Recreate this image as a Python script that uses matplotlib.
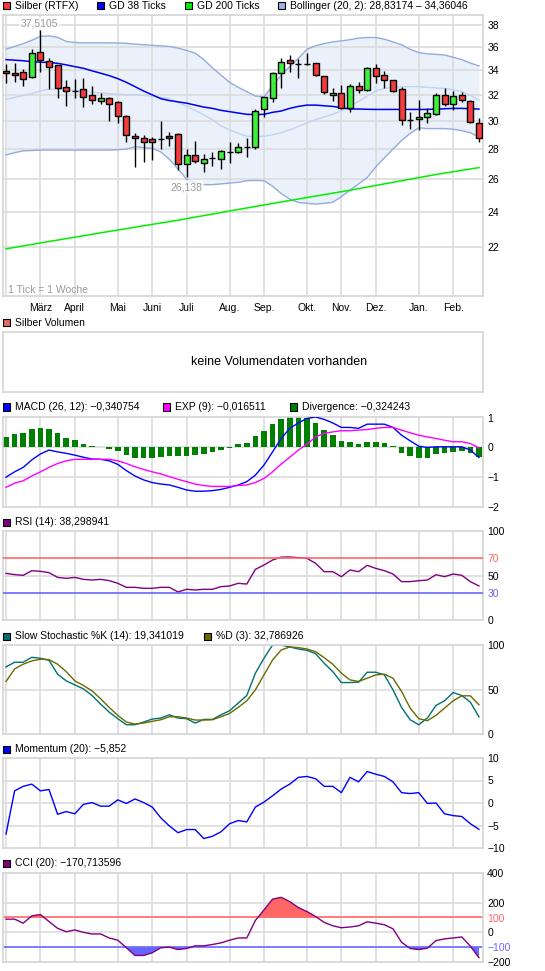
import matplotlib
matplotlib.use("Agg")
import matplotlib.pyplot as plt
from matplotlib.patches import Rectangle
from matplotlib.ticker import NullLocator
import numpy as np

plt.rcParams['font.family'] = ['Liberation Sans', 'DejaVu Sans']

W, H = 545, 971
FS = 7.5
GRID = '#dcdcdc'

# weekly candles (Silber RTFX)
opens = [33.93, 33.74, 33.82, 33.41, 35.58, 34.75, 34.41, 32.62, 32.32, 32.46,
         31.96, 31.49, 31.75, 31.43, 30.37, 28.93, 28.75, 28.68, 28.72, 28.89,
         29.05, 26.97, 27.59, 27.04, 27.42, 27.30, 27.82, 27.83, 28.17, 28.16,
         30.88, 31.72, 33.74, 34.83, 34.56, 34.54, 34.58, 33.49, 31.96, 32.12,
         30.95, 32.68, 32.40, 34.16, 33.57, 33.16, 32.44, 30.09, 30.12, 30.27,
         30.52, 31.96, 31.26, 31.96, 31.51, 29.89]
highs = [34.49, 34.58, 34.07, 35.85, 37.51, 35.01, 34.45, 33.16, 33.27, 33.33,
         32.70, 32.12, 31.85, 31.50, 30.45, 29.10, 28.98, 28.86, 30.00, 29.17,
         29.10, 28.00, 28.56, 27.64, 27.77, 27.93, 28.51, 28.40, 28.75, 30.88,
         31.85, 33.87, 35.01, 35.29, 34.92, 35.44, 34.63, 33.50, 32.56, 32.78,
         32.87, 33.05, 34.29, 34.49, 33.93, 33.20, 32.62, 30.65, 31.59, 30.95,
         32.12, 32.52, 32.30, 32.25, 31.59, 30.20]
lows = [32.92, 33.05, 32.72, 33.35, 33.87, 32.46, 31.72, 31.15, 31.72, 31.07,
        31.26, 31.26, 30.00, 29.83, 28.51, 26.81, 27.14, 27.25, 28.00, 28.23,
        26.59, 26.138, 27.03, 26.48, 26.87, 26.65, 27.03, 27.74, 27.47, 28.00,
        30.27, 31.41, 32.56, 33.87, 33.37, 34.45, 33.52, 32.04, 31.54, 30.88,
        30.69, 32.12, 32.32, 32.92, 32.56, 32.22, 29.71, 29.41, 29.34, 29.83,
        30.45, 31.15, 30.82, 31.41, 29.83, 28.51]
closes = [33.74, 33.57, 33.24, 35.44, 34.83, 34.24, 32.52, 32.27, 32.28, 31.83,
          31.57, 31.72, 31.30, 30.37, 28.98, 28.75, 28.51, 28.51, 28.68, 28.75,
          26.97, 27.57, 27.18, 27.30, 27.39, 27.86, 27.80, 28.16, 28.15, 30.72,
          31.80, 33.74, 34.72, 34.58, 34.54, 34.52, 33.57, 32.19, 32.12, 30.95,
          32.68, 32.36, 34.16, 33.49, 33.16, 32.27, 30.05, 30.07, 30.27, 30.62,
          31.96, 31.26, 31.88, 31.59, 29.95, 28.79]

gd38 = [34.90, 34.85, 34.80, 34.72, 34.68, 34.65, 34.58, 34.45, 34.30, 34.16,
        33.95, 33.75, 33.55, 33.30, 33.00, 32.65, 32.30, 32.00, 31.70, 31.55,
        31.45, 31.35, 31.20, 31.05, 30.95, 30.80, 30.70, 30.60, 30.50, 30.48,
        30.50, 30.65, 30.75, 30.95, 31.10, 31.20, 31.20, 31.15, 31.10, 31.00,
        30.90, 30.90, 30.88, 30.87, 30.87, 30.87, 30.87, 30.87, 30.87, 30.87,
        30.90, 30.92, 30.95, 30.95, 30.92, 30.90]
gd200_idx = [0, 5, 10, 15, 20, 25, 30, 35, 40, 45, 50, 55]
gd200 = [21.9, 22.3, 22.7, 23.1, 23.5, 23.95, 24.4, 24.85, 25.3, 25.8, 26.3, 26.75]

boll_up = [35.80, 36.05, 36.30, 36.60, 36.95, 37.00, 36.87, 36.50, 36.40, 36.37,
           36.37, 36.37, 36.37, 36.35, 36.33, 36.25, 36.20, 36.15, 36.10, 36.05,
           35.90, 35.70, 35.45, 34.90, 34.20, 33.60, 33.00, 32.60, 32.25, 31.90,
           31.85, 32.70, 33.60, 34.30, 35.00, 35.80, 36.10, 36.30, 36.45, 36.55,
           36.65, 36.80, 36.85, 36.85, 36.70, 36.45, 36.20, 35.80, 35.50, 35.40,
           35.35, 35.30, 35.10, 34.90, 34.60, 34.36]
boll_mid = [31.65, 31.80, 31.95, 32.10, 32.30, 32.45, 32.45, 32.40, 32.35, 32.30,
            32.20, 32.15, 32.10, 32.05, 32.00, 32.00, 31.95, 31.90, 31.80, 31.70,
            31.40, 31.10, 30.80, 30.45, 30.10, 29.65, 29.35, 29.10, 28.90, 28.85,
            28.90, 29.00, 29.15, 29.35, 29.60, 29.85, 30.10, 30.30, 30.50, 30.75,
            31.10, 31.50, 31.90, 32.30, 32.50, 32.60, 32.65, 32.65, 32.65, 32.60,
            32.55, 32.50, 32.40, 32.25, 31.95, 31.60]
boll_low = [27.60, 27.75, 27.88, 27.90, 27.93, 27.93, 27.93, 27.93, 27.93, 27.93,
            27.93, 27.93, 27.93, 27.95, 28.00, 28.16, 28.10, 28.05, 27.80, 27.30,
            26.65, 26.00, 25.75, 25.65, 25.65, 25.70, 25.75, 25.80, 25.90, 25.92,
            25.90, 25.55, 25.10, 24.75, 24.55, 24.50, 24.45, 24.50, 24.56, 24.90,
            25.30, 25.70, 26.10, 26.80, 27.40, 28.00, 28.60, 29.10, 29.50, 29.45,
            29.45, 29.45, 29.40, 29.30, 29.15, 28.83]

macd = [-1.00, -0.82, -0.67, -0.42, -0.22, -0.09, -0.15, -0.20, -0.26, -0.33,
        -0.39, -0.40, -0.45, -0.57, -0.78, -0.96, -1.09, -1.18, -1.23, -1.26,
        -1.34, -1.43, -1.47, -1.47, -1.45, -1.41, -1.34, -1.26, -1.15, -0.93,
        -0.59, -0.15, 0.30, 0.64, 0.82, 0.97, 1.02, 0.94, 0.82, 0.67,
        0.67, 0.64, 0.78, 0.78, 0.78, 0.67, 0.41, 0.22, 0.04, 0.00,
        0.02, 0.02, 0.02, 0.02, -0.09, -0.34]
exp9 = [-1.34, -1.20, -1.12, -0.96, -0.82, -0.67, -0.54, -0.45, -0.40, -0.40,
        -0.40, -0.40, -0.40, -0.45, -0.54, -0.65, -0.74, -0.82, -0.89, -0.98,
        -1.07, -1.15, -1.23, -1.28, -1.31, -1.31, -1.31, -1.28, -1.26, -1.18,
        -1.04, -0.82, -0.56, -0.33, -0.09, 0.11, 0.35, 0.47, 0.52, 0.56,
        0.56, 0.58, 0.60, 0.64, 0.67, 0.67, 0.58, 0.49, 0.41, 0.35,
        0.30, 0.24, 0.19, 0.19, 0.13, -0.02]
divergence = [0.35, 0.44, 0.49, 0.63, 0.66, 0.63, 0.49, 0.33, 0.24, 0.13,
              0.05, 0.02, -0.05, -0.12, -0.26, -0.34, -0.37, -0.34, -0.31, -0.29,
              -0.29, -0.29, -0.27, -0.22, -0.16, -0.09, -0.02, 0.12, 0.16, 0.38,
              0.55, 0.79, 0.94, 1.03, 1.03, 0.97, 0.82, 0.58, 0.40, 0.23,
              0.19, 0.12, 0.19, 0.19, 0.16, 0.04, -0.18, -0.29, -0.34, -0.34,
              -0.22, -0.20, -0.14, -0.11, -0.18, -0.32]

rsi = [52.4, 51.0, 50.2, 55.4, 54.7, 53.2, 47.9, 46.8, 47.9, 45.7,
       44.9, 45.7, 44.2, 41.2, 36.7, 36.7, 35.6, 35.6, 36.7, 36.7,
       31.5, 34.5, 33.7, 34.5, 34.5, 37.5, 38.2, 41.2, 40.4, 56.9,
       61.8, 67.4, 70.6, 70.8, 70.1, 69.3, 63.7, 54.3, 54.3, 48.7,
       56.2, 54.3, 61.4, 58.0, 55.4, 51.7, 43.1, 43.1, 44.2, 44.9,
       50.9, 48.7, 51.7, 50.2, 43.1, 38.3]

stoch_k = [75.4, 80.6, 80.6, 86.2, 85.1, 82.8, 67.2, 59.7, 55.2, 50.7,
           43.3, 33.6, 24.6, 17.2, 10.4, 10.4, 13.4, 16.8, 17.9, 21.6,
           17.9, 17.2, 12.3, 16.4, 16.4, 21.6, 26.1, 34.7, 43.3, 68.3,
           85.1, 100.0, 100.0, 97.8, 95.5, 94.0, 90.3, 79.5, 70.1, 57.8,
           57.8, 58.2, 69.4, 69.4, 66.4, 49.6, 29.9, 16.0, 10.4, 17.9,
           32.1, 37.3, 46.6, 43.3, 35.8, 19.3]
stoch_d = [59.0, 73.1, 78.4, 82.1, 84.0, 83.6, 78.4, 70.1, 59.7, 54.5,
           48.5, 39.6, 29.9, 20.9, 13.4, 11.2, 12.3, 14.2, 16.0, 19.4,
           19.4, 17.9, 15.7, 15.7, 16.0, 19.4, 23.1, 29.9, 37.3, 49.6,
           66.4, 83.2, 94.4, 97.8, 97.0, 95.5, 92.5, 85.8, 78.4, 68.3,
           60.8, 59.0, 62.7, 66.4, 67.2, 62.7, 47.8, 29.1, 17.2, 14.9,
           20.9, 29.1, 37.3, 42.9, 42.9, 32.8]

momentum = [-6.9, 2.7, 3.7, 4.2, 2.7, 3.0, -2.5, -1.9, -2.4, -0.3,
            0.1, -0.7, -0.7, 0.7, -0.1, 0.9, 0.1, -0.9, -3.3, -5.1,
            -6.6, -5.9, -5.9, -7.9, -7.4, -6.4, -4.6, -3.9, -4.2, -0.9,
            0.2, 1.6, 3.1, 4.2, 5.7, 5.9, 5.4, 3.7, 3.7, 2.3,
            5.7, 4.7, 7.0, 6.4, 5.9, 4.7, 2.3, 2.1, 2.3, -0.1,
            0.0, -2.4, -2.8, -3.0, -4.6, -5.85]

cci = [89, 89, 62, 111, 120, 73, 27, 4, 16, 0,
       -11, -11, -38, -53, -104, -156, -156, -138, -104, -100,
       -116, -109, -91, -91, -82, -71, -53, -38, -38, 80,
       151, 224, 236, 207, 167, 140, 107, 67, 44, 31,
       36, 44, 71, 62, 51, 24, -67, -109, -116, -107,
       -56, -44, -38, -31, -93, -171]

months = ['März', 'April', 'Mai', 'Juni', 'Juli', 'Aug.', 'Sep.', 'Okt.', 'Nov.', 'Dez.', 'Jan.', 'Feb.']
month_idx = [4, 8, 13, 17, 21, 26, 30, 35, 39, 43, 48, 52]
price_ticks = [22, 24, 26, 28, 30, 32, 34, 36, 38]

x = np.arange(len(closes))
fig = plt.figure(figsize=(W / 100, H / 100), dpi=100)


def panel(top, bottom, vgrid=True):
    ax = fig.add_axes([3 / W, 1 - bottom / H, 480 / W, (bottom - top) / H])
    ax.set_xlim(-0.35, 55.47)
    for s in ax.spines.values():
        s.set_color('#d4d4d4')
        s.set_linewidth(1.2)
    ax.yaxis.tick_right()
    ax.tick_params(axis='both', length=0, labelsize=FS, pad=3)
    ax.set_xticks([])
    if vgrid:
        for xv in [0] + month_idx:
            ax.axvline(xv, color=GRID, lw=1.2, zorder=0.6)
    return ax


def legend_item(xp, yp, color, label):
    fig.patches.append(Rectangle((xp / W, 1 - (yp + 3.5) / H), 7 / W, 7 / H,
                                 transform=fig.transFigure, facecolor=color,
                                 edgecolor='black', linewidth=0.8))
    fig.text((xp + 12) / W, 1 - yp / H, label, fontsize=FS, va='center', ha='left')


def hgrid(ax, vals):
    for v in vals:
        ax.axhline(v, color=GRID, lw=1.2, zorder=0.6)


# ---- price chart ----
ax = panel(15, 296)
ax.set_yscale('log')
ax.set_ylim(19.5, 38.95)
ax.set_yticks(price_ticks, labels=[str(t) for t in price_ticks])
ax.yaxis.set_minor_locator(NullLocator())
hgrid(ax, price_ticks)
ax.set_xticks(month_idx, labels=months)
ax.tick_params(axis='x', labelsize=FS, pad=5)

ax.fill_between(x, boll_low, boll_up, color='#eaf1fb', lw=0, zorder=0.3)
ax.plot(x, boll_up, color='#93acdc', lw=1, zorder=1)
ax.plot(x, boll_low, color='#93acdc', lw=1, zorder=1)
ax.plot(x, boll_mid, color='#c0d3f3', lw=1, zorder=1)
ax.plot(x, gd38, color='#0000ee', lw=1.1, zorder=2)
ax.plot(gd200_idx, gd200, color='#00ee00', lw=1.1, zorder=2)

o = np.array(opens)
c = np.array(closes)
body_col = np.where(c >= o, '#3cf03c', '#f43c3c')
ax.vlines(x, lows, highs, color='black', lw=1, zorder=3)
ax.bar(x, np.abs(c - o), bottom=np.minimum(o, c), width=0.7, color=body_col,
       edgecolor='black', linewidth=1, zorder=4)

box = dict(boxstyle='square,pad=0.15', fc='white', ec='none', alpha=0.75)
ax.annotate('37,5105', (4, highs[4]), xytext=(-1, 7), textcoords='offset pixels',
            ha='center', va='center', fontsize=FS, color='#999999', bbox=box, zorder=5)
ax.annotate('26,138', (21, lows[21]), xytext=(0, -10), textcoords='offset pixels',
            ha='center', va='center', fontsize=FS, color='#999999', bbox=box, zorder=5)
ax.text(5 / 480, 6 / 281, '1 Tick = 1 Woche', transform=ax.transAxes, fontsize=FS,
        color='#999999', va='center', ha='left')

legend_item(3, 6, '#f43c3c', 'Silber (RTFX)')
legend_item(97, 6, '#0000ee', 'GD 38 Ticks')
legend_item(185, 6, '#00ee00', 'GD 200 Ticks')
legend_item(278, 6, '#9db3e2', 'Bollinger (20, 2): 28,83174 \u2013 34,36046')

# ---- volume ----
axv = panel(332, 392, vgrid=False)
axv.set_yticks([])
axv.text(0.575, 0.5, 'keine Volumendaten vorhanden', transform=axv.transAxes,
         ha='center', va='center', fontsize=9)
legend_item(3, 323, '#e06b63', 'Silber Volumen')

# ---- MACD ----
axm = panel(417, 507)
axm.set_ylim(-2, 1.02)
axm.set_yticks([1, 0, -1, -2], labels=['1', '0', '\u22121', '\u22122'])
hgrid(axm, [0, -1])
axm.bar(x, divergence, width=0.65, color='#008000', zorder=2)
axm.plot(x, macd, color='#0000ff', lw=1, zorder=3)
axm.plot(x, exp9, color='#ff00ff', lw=1, zorder=3)
legend_item(3, 407, '#0000ff', 'MACD (26, 12): \u22120,340754')
legend_item(163, 407, '#ff00ff', 'EXP (9): \u22120,016511')
legend_item(290, 407, '#008000', 'Divergence: \u22120,324243')

# ---- RSI ----
axr = panel(531, 620)
axr.set_ylim(0, 100)
axr.set_yticks([100, 70, 50, 30, 0], labels=['100', '70', '50', '30', '0'])
axr.get_yticklabels()[1].set_color('#ff6666')
axr.get_yticklabels()[3].set_color('#6666ff')
hgrid(axr, [50])
axr.plot(x, rsi, color='#800080', lw=1, zorder=2)
axr.axhline(70, color='#ff6666', lw=1.2, zorder=3)
axr.axhline(30, color='#6666ff', lw=1.2, zorder=3)
legend_item(3, 522, '#800080', 'RSI (14): 38,298941')

# ---- Slow Stochastic ----
axs = panel(645, 734)
axs.set_ylim(0, 100)
axs.set_yticks([100, 50, 0], labels=['100', '50', '0'])
hgrid(axs, [50])
axs.plot(x, stoch_k, color='#007070', lw=1, zorder=2)
axs.plot(x, stoch_d, color='#6b6b00', lw=1, zorder=2)
legend_item(3, 636, '#007070', 'Slow Stochastic %K (14): 19,341019')
legend_item(204, 636, '#6b6b00', '%D (3): 32,786926')

# ---- Momentum ----
axo = panel(758, 848)
axo.set_ylim(-10, 10)
axo.set_yticks([10, 5, 0, -5, -10], labels=['10', '5', '0', '\u22125', '\u221210'])
hgrid(axo, [5, 0, -5])
axo.plot(x, momentum, color='#0000ff', lw=1, zorder=2)
legend_item(3, 749, '#0000ff', 'Momentum (20): \u22125,852')

# ---- CCI ----
axc = panel(873, 962)
axc.set_ylim(-200, 400)
axc.set_yticks([400, 200, 100, 0, -100, -200],
               labels=['400', '200', '100', '0', '\u2212100', '\u2212200'])
axc.get_yticklabels()[2].set_color('#ff6666')
axc.get_yticklabels()[4].set_color('#6666ff')
hgrid(axc, [200, 0])
cc = np.array(cci, dtype=float)
axc.fill_between(x, cc, 100, where=cc >= 100, interpolate=True, color='#ff6666', lw=0, zorder=1)
axc.fill_between(x, cc, -100, where=cc <= -100, interpolate=True, color='#6666ff', lw=0, zorder=1)
axc.axhline(100, color='#ff6666', lw=1.2, zorder=2)
axc.axhline(-100, color='#6666ff', lw=1.2, zorder=2)
axc.plot(x, cci, color='#800080', lw=1, zorder=3)
legend_item(3, 863, '#800080', 'CCI (20): \u2212170,713596')

fig.savefig('out.png', dpi=100)
